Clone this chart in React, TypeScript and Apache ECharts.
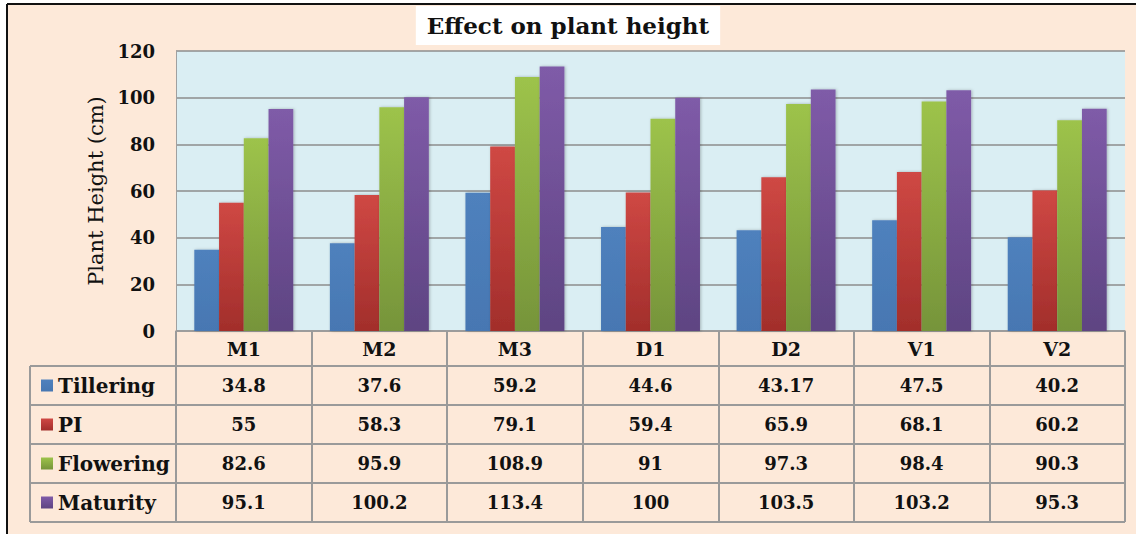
import React, { useEffect, useRef } from "react";
import * as echarts from "echarts";

const categories = ["M1", "M2", "M3", "D1", "D2", "V1", "V2"];
const seriesNames = ["Tillering", "PI", "Flowering", "Maturity"];
const tillering = [34.8, 37.6, 59.2, 44.6, 43.17, 47.5, 40.2];
const pi = [55, 58.3, 79.1, 59.4, 65.9, 68.1, 60.2];
const flowering = [82.6, 95.9, 108.9, 91, 97.3, 98.4, 90.3];
const maturity = [95.1, 100.2, 113.4, 100, 103.5, 103.2, 95.3];
const seriesValues = [tillering, pi, flowering, maturity];
const yTicks = [0, 20, 40, 60, 80, 100, 120];

const colorsTop = ["#4F81BD", "#CF4844", "#9DC34B", "#7F5BA8"];
const colorsBottom = ["#4777B2", "#A22E2B", "#76943A", "#5E4482"];

const FONT = "DejaVu Serif";
const W = 1136;
const H = 534;
const GRID_L = 176;
const GRID_R = 1125;
const GRID_T = 51;
const GRID_B = 331;
const HEADER_B = 366;
const ROW_H = 39;
const TABLE_L = 30;
const LINE = "#9a9a9a";

export default function App() {
  const ref = useRef<HTMLDivElement>(null);
  useEffect(() => {
    if (!ref.current) return;
    const chart = echarts.init(ref.current, undefined, { renderer: "svg" });

    const rowCenters = seriesNames.map((_, i) => HEADER_B + ROW_H * i + ROW_H / 2);

    const valueAxes = seriesValues.map((vals, i) => ({
      type: "category",
      gridIndex: 0,
      position: "bottom",
      data: categories,
      axisLine: { show: false },
      axisTick: { show: false },
      splitLine: { show: false },
      axisLabel: {
        interval: 0,
        margin: rowCenters[i] - GRID_B,
        verticalAlign: "middle",
        fontFamily: FONT,
        fontWeight: "bold",
        fontSize: 18,
        color: "#111",
        formatter: (_v: string, idx: number) => String(vals[idx]),
      },
    }));

    const legends = seriesNames.map((name, i) => ({
      orient: "horizontal",
      left: 36,
      top: rowCenters[i] - 15,
      itemWidth: 12,
      itemHeight: 12,
      itemGap: 6,
      icon: "rect",
      data: [name],
      selectedMode: false,
      textStyle: {
        fontFamily: FONT,
        fontWeight: "bold",
        fontSize: 20,
        color: "#111",
      },
    }));

    const hLines: any[] = [];
    for (let r = 0; r <= seriesNames.length; r++) {
      const y = HEADER_B + ROW_H * r;
      hLines.push({
        type: "line",
        shape: { x1: TABLE_L, y1: y, x2: GRID_R, y2: y },
        style: { stroke: LINE, lineWidth: 2 },
      });
    }
    hLines.push({
      type: "line",
      shape: { x1: TABLE_L, y1: HEADER_B, x2: TABLE_L, y2: HEADER_B + ROW_H * 4 },
      style: { stroke: LINE, lineWidth: 2 },
    });

    chart.setOption({
      animation: false,
      backgroundColor: "#FDE9D9",
      title: {
        text: "Effect on plant height",
        left: "center",
        top: 6,
        backgroundColor: "#ffffff",
        padding: [7, 11, 7, 11],
        textStyle: {
          fontFamily: FONT,
          fontWeight: "bold",
          fontSize: 23,
          lineHeight: 25,
          color: "#111",
        },
      },
      legend: legends,
      grid: {
        left: GRID_L,
        right: W - GRID_R,
        top: GRID_T,
        bottom: H - GRID_B,
        show: true,
        backgroundColor: "#DAEEF3",
        borderWidth: 0,
      },
      xAxis: [
        {
          type: "category",
          data: categories,
          position: "bottom",
          axisLine: { show: true, lineStyle: { color: LINE, width: 1.5 } },
          axisTick: {
            show: true,
            interval: 0,
            alignWithLabel: false,
            length: HEADER_B + ROW_H * 4 - GRID_B,
            lineStyle: { color: LINE, width: 2 },
          },
          axisLabel: {
            interval: 0,
            margin: (HEADER_B - GRID_B) / 2,
            verticalAlign: "middle",
            fontFamily: FONT,
            fontWeight: "bold",
            fontSize: 19,
            color: "#111",
          },
        },
        ...valueAxes,
      ],
      yAxis: {
        type: "value",
        min: yTicks[0],
        max: yTicks[yTicks.length - 1],
        interval: yTicks[1] - yTicks[0],
        name: "Plant Height (cm)",
        nameLocation: "middle",
        nameGap: 68,
        nameTextStyle: {
          fontFamily: FONT,
          fontSize: 21,
          color: "#111",
        },
        axisLine: { show: true, lineStyle: { color: "#a0a0a0", width: 1 } },
        axisTick: { show: false },
        splitLine: { show: true, lineStyle: { color: "#8c8c8c", width: 1.5 } },
        axisLabel: {
          margin: 21,
          fontFamily: FONT,
          fontWeight: "bold",
          fontSize: 18,
          color: "#111",
        },
      },
      series: seriesNames.map((name, i) => ({
        name,
        type: "bar",
        xAxisIndex: 0,
        data: seriesValues[i],
        barGap: "0%",
        barCategoryGap: "27%",
        itemStyle: {
          color: new echarts.graphic.LinearGradient(0, 0, 0, 1, [
            { offset: 0, color: colorsTop[i] },
            { offset: 1, color: colorsBottom[i] },
          ]),
          shadowColor: "rgba(0,0,0,0.25)",
          shadowBlur: 3,
          shadowOffsetX: 1,
          shadowOffsetY: 0,
        },
      })),
      graphic: [
        { type: "rect", shape: { x: 0, y: 0, width: W, height: 4 }, style: { fill: "#ffffff" } },
        { type: "rect", shape: { x: 0, y: 0, width: 7, height: H }, style: { fill: "#ffffff" } },
        { type: "line", shape: { x1: 7, y1: 4, x2: W, y2: 4 }, style: { stroke: "#111", lineWidth: 2 } },
        { type: "line", shape: { x1: 7, y1: 4, x2: 7, y2: H }, style: { stroke: "#111", lineWidth: 2 } },
        ...hLines,
      ],
    });
    return () => chart.dispose();
  }, []);
  return (
    <div
      ref={ref}
      style={{ position: "absolute", left: 0, top: 0, width: W, height: H }}
    />
  );
}
